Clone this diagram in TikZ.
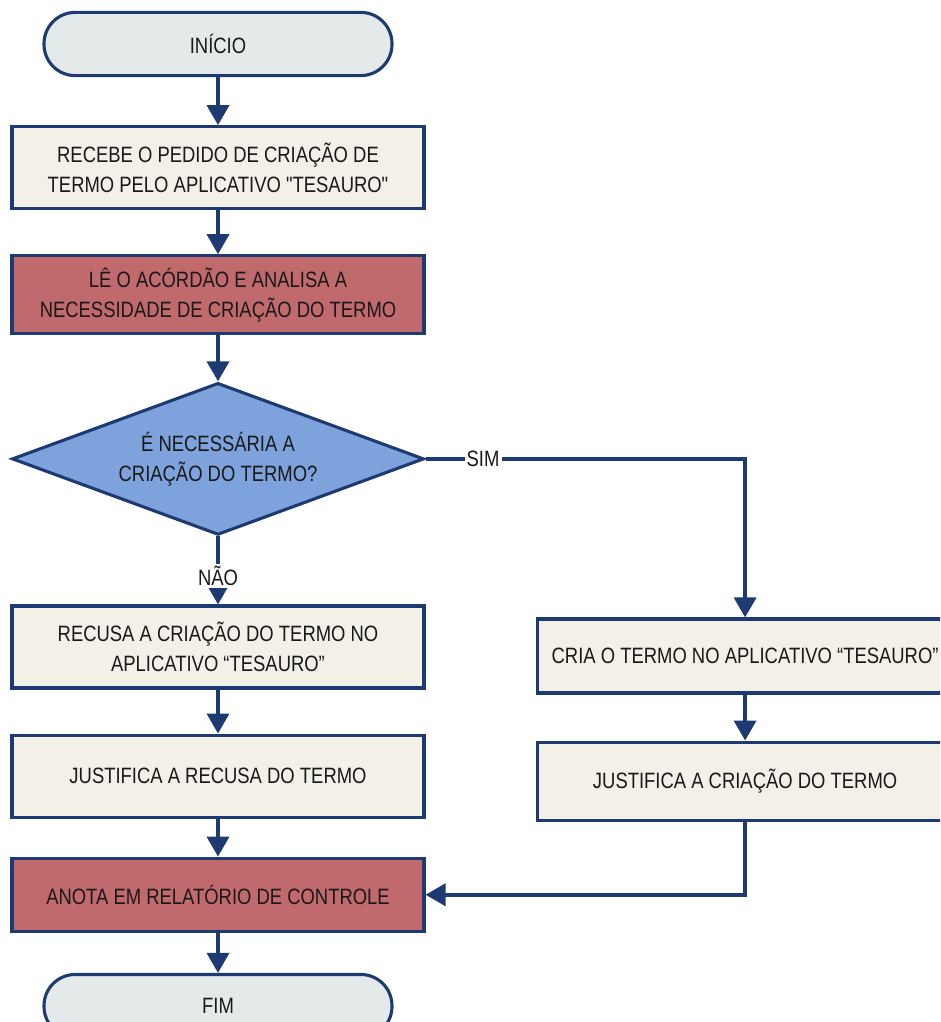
\documentclass[tikz,border=0pt]{standalone}
\usepackage{fontspec}
\setmainfont{Liberation Sans}[FakeStretch=0.83,Ligatures=TeXOff]
\usetikzlibrary{positioning,shapes.geometric,arrows.meta}
\definecolor{navy}{RGB}{30,58,115}
\definecolor{termfill}{RGB}{228,234,234}
\definecolor{boxfill}{RGB}{243,240,232}
\definecolor{redfill}{RGB}{192,106,110}
\definecolor{decfill}{RGB}{126,163,220}
\tikzset{
  module/.style={draw=navy, line width=2.2pt, align=center, text=black!90, font=\fontsize{15.8}{21.5}\selectfont},
  terminal/.style={module, rounded corners=0.78cm, fill=termfill, minimum width=8.7cm, minimum height=1.58cm},
  simple module/.style={module, fill=boxfill, minimum width=10.3cm, minimum height=2.05cm},
  red module/.style={simple module, fill=redfill},
  decision/.style={module, diamond, aspect=2.4, inner sep=0pt, fill=decfill, minimum width=10.3cm, minimum height=3.8cm},
  flow/.style={draw=navy, line width=2.6pt, -{Triangle[width=0.55cm,length=0.5cm]}},
  flow label/.style={fill=white, inner sep=1.5pt, text=black!90, font=\fontsize{15.8}{18}\selectfont},
}

\begin{document}
\begin{tikzpicture}
\clip (0,0) rectangle (23.5,-25.55);
% the nodes
\node [terminal] (inicio) at (5.45,-1.1) {INÍCIO};
\node [simple module, below=1.2cm of inicio] (recebe) {RECEBE O PEDIDO DE CRIAÇÃO DE\\TERMO PELO APLICATIVO "TESAURO"};
\node [red module, minimum height=1.95cm, below=1.1cm of recebe] (analisa) {LÊ O ACÓRDÃO E ANALISA A\\NECESSIDADE DE CRIAÇÃO DO TERMO};
\node [decision, below=1.15cm of analisa] (decisao) {É NECESSÁRIA A\\CRIAÇÃO DO TERMO?};
\node [simple module, below=1.7cm of decisao] (recusa) {RECUSA A CRIAÇÃO DO TERMO NO\\APLICATIVO “TESAURO”};
\node [simple module, below=1.1cm of recusa] (justrec) {JUSTIFICA A RECUSA DO TERMO};
\node [red module, minimum height=1.83cm, below=0.95cm of justrec] (anota) {ANOTA EM RELATÓRIO DE CONTROLE};
\node [terminal, below=1.0cm of anota] (fim) {FIM};
\node [simple module, minimum width=10.4cm, minimum height=1.85cm, right=2.75cm of recusa, yshift=-0.225cm] (cria) {CRIA O TERMO NO APLICATIVO “TESAURO”};
\node [simple module, minimum width=10.4cm, minimum height=1.95cm, below=1.15cm of cria] (justcria) {JUSTIFICA A CRIAÇÃO DO TERMO};
% the arrows
\draw[flow] (inicio) -- (recebe);
\draw[flow] (recebe) -- (analisa);
\draw[flow] (analisa) -- (decisao);
\draw[flow] (decisao.south) -- node[flow label, pos=0.58] {NÃO} (recusa.north);
\draw[flow] (decisao.east) -| node[flow label, pos=0.09] {SIM} (cria.north);
\draw[flow] (recusa) -- (justrec);
\draw[flow] (justrec) -- (anota);
\draw[flow] (cria) -- (justcria);
\draw[flow] (justcria.south) |- (anota.east);
\draw[flow] (anota) -- (fim);
\end{tikzpicture}
\end{document}
